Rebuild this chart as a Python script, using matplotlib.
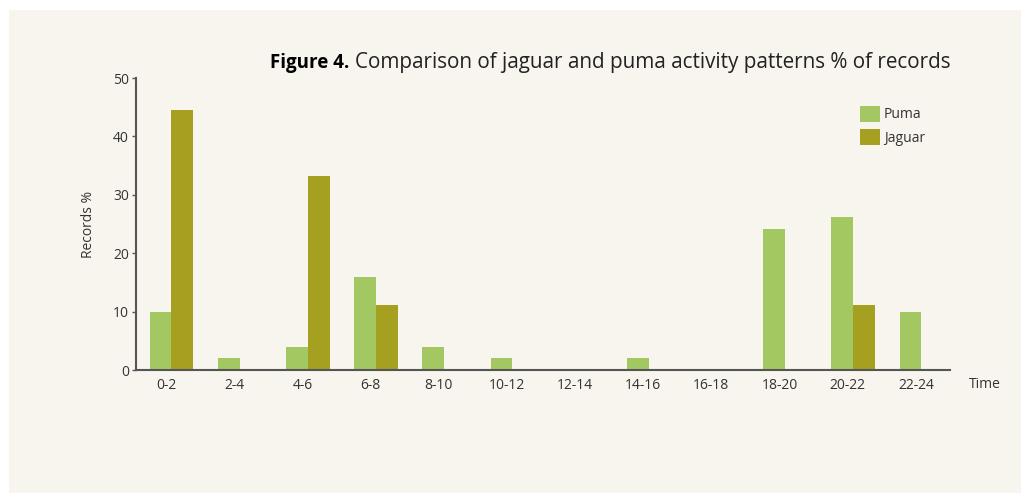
import numpy as np
import matplotlib.pyplot as plt
from matplotlib.patches import Rectangle

plt.rcParams['font.family'] = ['Open Sans', 'DejaVu Sans']

# data
slots = ['0-2', '2-4', '4-6', '6-8', '8-10', '10-12', '12-14', '14-16',
         '16-18', '18-20', '20-22', '22-24']
puma = [10, 2, 4, 16, 4, 2, 0, 2, 0, 24.2, 26.2, 10]
jaguar = [44.5, 0, 33.3, 11.1, 0, 0, 0, 0, 0, 0, 11.1, 0]

bg = '#f8f4ee'
c_puma = '#a3c862'
c_jag = '#a6a020'
axis_col = '#555555'

fig = plt.figure(figsize=(10.21, 4.93), dpi=100)
fig.patch.set_facecolor('white')
fig.patches.append(Rectangle((9/1021, -0.1), 1.1, 1.1 - 10/493, transform=fig.transFigure,
                             facecolor=bg, edgecolor='none', zorder=-10))

ax = fig.add_axes([136/1021, 1 - 370/493, (950 - 136)/1021, (370 - 78)/493])
ax.set_facecolor('none')

x = np.arange(len(slots))
w = 0.32
ax.bar(x - 0.08, puma, w, color=c_puma, label='Puma')
ax.bar(x + 0.24, jaguar, w, color=c_jag, label='Jaguar')

ax.set_xlim(-0.44, 11.5)
ax.set_ylim(0, 50)
ax.set_yticks(range(0, 51, 10))
ax.set_xticks(x)
ax.set_xticklabels(slots)
ax.tick_params(axis='x', length=0, pad=6, labelsize=10, colors='#333333')
ax.tick_params(axis='y', length=3, width=1, color=axis_col, pad=2,
               labelsize=10, labelcolor='#333333')
for s in ['top', 'right']:
    ax.spines[s].set_visible(False)
for s in ['left', 'bottom']:
    ax.spines[s].set_color(axis_col)
    ax.spines[s].set_linewidth(1.5)

ax.set_ylabel('Records %', fontsize=10, color='#333333', labelpad=12)
fig.text(985/1021, 1 - 385/493, 'Time', fontsize=10, color='#333333',
         ha='center', va='center')

t1 = fig.text(270/1021, 1 - 68/493, 'Figure 4.', fontsize=13.5, fontweight='bold',
              color='black', ha='left', va='baseline')
fig.canvas.draw()
bb = t1.get_window_extent()
fig.text((bb.x1 + 6)/1021, 1 - 68/493,
         'Comparison of jaguar and puma activity patterns % of records',
         fontsize=14.85, color='#222222', ha='left', va='baseline')

leg = ax.legend(loc='upper left', bbox_to_anchor=(718/814, 1 - 22/292), frameon=False,
                fontsize=10, handlelength=1.45, handleheight=1.4, handletextpad=0.3,
                labelspacing=0.5, borderaxespad=0)
for t in leg.get_texts():
    t.set_color('#333333')

fig.savefig('out.png', dpi=100, facecolor=fig.get_facecolor())
